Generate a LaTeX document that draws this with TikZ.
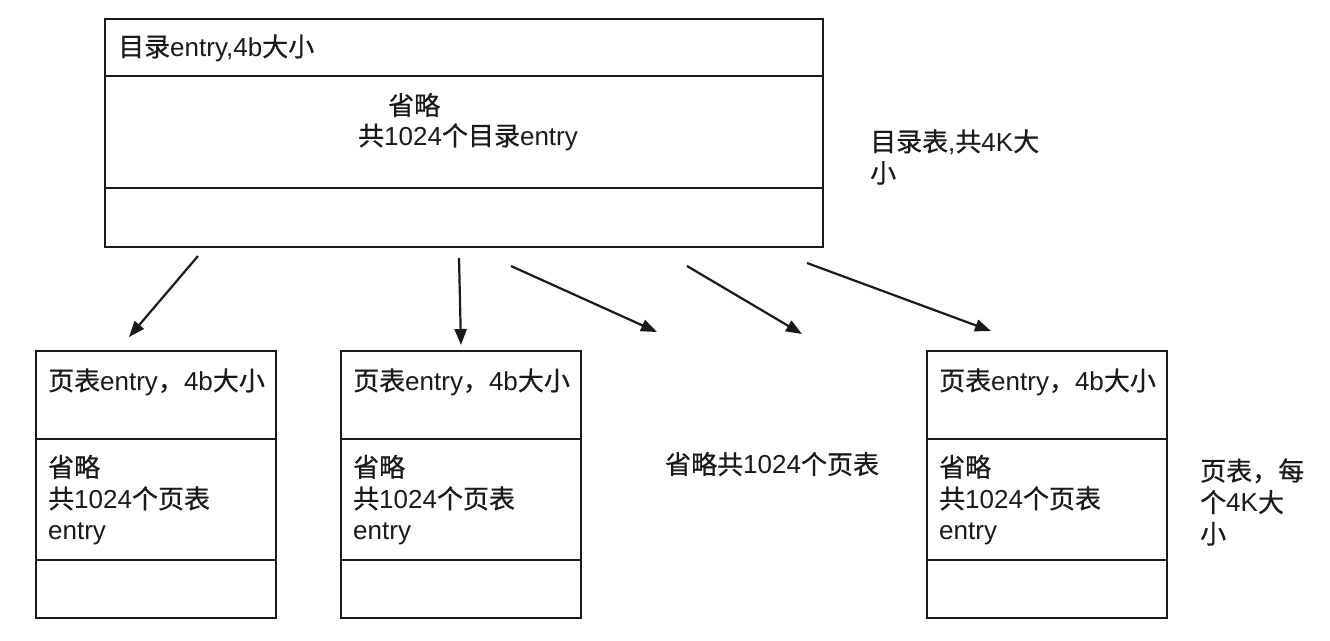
\documentclass[tikz,border=0pt]{standalone}
\usepackage{fontspec}
\setmainfont{Liberation Sans}
\newfontfamily\cjk[FakeBold=0.6]{Noto Sans CJK SC}
\usetikzlibrary{arrows.meta}
\definecolor{ink}{HTML}{1A1A1A}
\begin{document}
\begin{tikzpicture}[x=1pt,y=-1pt,
  tbox/.style={draw=ink, line width=1.5pt, inner sep=0pt, anchor=north west},
  sep/.style={draw=ink, line width=1.5pt},
  txt/.style={font=\fontsize{26}{31.5}\selectfont, text=ink, inner sep=0pt, anchor=west, align=left},
  arr/.style={draw=ink, line width=2.2pt, -{Triangle[length=16pt,width=12pt]}}]
\useasboundingbox (0,0) rectangle (1330,640);
\fill[white] (0,0) rectangle (1330,640);

% directory table
\node[tbox, minimum width=718pt, minimum height=228pt] (dir) at (104,18) {};
\draw[sep] (dir.west |- 0,76) -- (dir.east |- 0,76);
\draw[sep] (dir.west |- 0,188) -- (dir.east |- 0,188);
\node[txt] (d1) at (118,48) {{\cjk 目录}entry,4b{\cjk 大小}};
\node[txt] (d2) at (388,105) {\cjk 省略};
\node[txt] (d3) at (358,137) {{\cjk 共}1024{\cjk 个目录}entry};
\node[txt] (dl) at (870,157) {{\cjk 目录表},{\cjk 共}4K{\cjk 大}\\{\cjk 小}};

% page tables
\foreach \n/\x in {p1/35, p2/340, p3/926} {
  \node[tbox, minimum width=240pt, minimum height=267pt] (\n) at (\x,350) {};
  \draw[sep] (\n.west |- 0,439) -- (\n.east |- 0,439);
  \draw[sep] (\n.west |- 0,560) -- (\n.east |- 0,560);
  \node[txt] (\n t1) at (\x+13,382) {{\cjk 页表}entry{\cjk ，}4b{\cjk 大小}};
  \node[txt] (\n t2) at (\x+13,500) {{\cjk 省略}\\{\cjk 共}1024{\cjk 个页表}\\entry};
}
\node[txt] (mid) at (665,464) {{\cjk 省略共}1024{\cjk 个页表}};
\node[txt] (pl) at (1200,502) {{\cjk 页表，每}\\{\cjk 个}4K{\cjk 大}\\{\cjk 小}};

% arrows
\coordinate (a1s) at (198,256); \coordinate (a1e) at (129,337);
\coordinate (a2s) at (459,258); \coordinate (a2e) at (461,345);
\coordinate (a3s) at (511,266); \coordinate (a3e) at (657,332);
\coordinate (a4s) at (687,266); \coordinate (a4e) at (802,334);
\coordinate (a5s) at (807,263); \coordinate (a5e) at (991,331);
\draw[arr] (a1s) -- (a1e);
\draw[arr] (a2s) -- (a2e);
\draw[arr] (a3s) -- (a3e);
\draw[arr] (a4s) -- (a4e);
\draw[arr] (a5s) -- (a5e);
\end{tikzpicture}
\end{document}
